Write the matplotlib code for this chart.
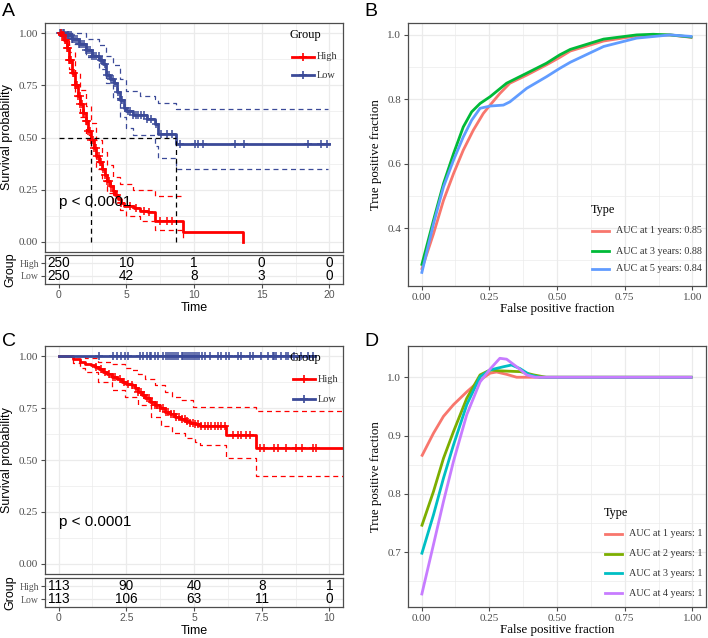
import numpy as np
import matplotlib
matplotlib.use("Agg")
import matplotlib.pyplot as plt
from matplotlib.lines import Line2D

W, H = 708, 638
SERIF = "Liberation Serif"
SANS = "Liberation Sans"
RED = "#FF0000"
BLUE = "#3B4A98"
GRID = "#EBEBEB"
BORDER = "#4D4D4D"
TICKC = "#4D4D4D"

# ---------------- Panel A data ----------------
a_high_t = [0, 0.2, 0.4, 0.6, 0.8, 1.0, 1.2, 1.4, 1.6, 1.8, 2.0, 2.2, 2.4, 2.6, 2.8, 3.0, 3.2, 3.4,
            3.6, 3.8, 4.0, 4.2, 4.4, 4.6, 4.8, 5.6, 6.0, 6.6, 7.1, 9.2, 13.6]
a_high_s = [1.0, 0.99, 0.97, 0.93, 0.87, 0.81, 0.75, 0.70, 0.66, 0.62, 0.58, 0.53, 0.49, 0.45, 0.41,
            0.38, 0.35, 0.32, 0.29, 0.265, 0.245, 0.225, 0.205, 0.185, 0.17, 0.16, 0.145, 0.14, 0.10,
            0.048, 0.0]
a_high_up_t = [0, 0.4, 0.8, 1.2, 1.6, 2.0, 2.4, 2.8, 3.2, 3.6, 4.0, 4.5, 5.5, 7.1, 9.2]
a_high_up_s = [1.0, 1.0, 0.91, 0.81, 0.73, 0.65, 0.57, 0.49, 0.43, 0.37, 0.31, 0.275, 0.25, 0.22, 0.22]
a_high_lo_t = [0, 0.4, 0.8, 1.2, 1.6, 2.0, 2.4, 2.8, 3.2, 3.6, 4.0, 4.5, 5.0, 6.0, 7.1, 9.2]
a_high_lo_s = [1.0, 0.95, 0.83, 0.70, 0.60, 0.51, 0.42, 0.35, 0.29, 0.235, 0.19, 0.15, 0.125, 0.10,
               0.055, 0.01]
a_high_cens = [0.15, 0.25, 0.35, 0.45, 0.55, 0.62, 0.7, 0.8, 0.88, 0.95, 1.05, 1.12, 1.2, 1.3, 1.38,
               1.45, 1.55, 1.62, 1.7, 1.8, 1.9, 2.0, 2.1, 2.2, 2.3, 2.42, 2.55, 2.65, 2.75, 2.85, 2.95,
               3.05, 3.15, 3.3, 3.45, 3.6, 3.75, 3.9, 4.1, 4.3, 4.6, 5.3, 5.7, 6.3, 6.7, 7.5, 7.97, 8.34]

a_low_t = [0, 0.5, 1.0, 1.5, 2.0, 2.5, 3.0, 3.3, 3.5, 3.8, 4.1, 4.3, 4.5, 4.8, 5.0, 5.5, 6.5, 7.1,
           7.35, 8.7, 20.0]
a_low_s = [1.0, 0.99, 0.975, 0.95, 0.92, 0.89, 0.87, 0.855, 0.80, 0.78, 0.76, 0.72, 0.68, 0.64, 0.625,
           0.607, 0.59, 0.565, 0.515, 0.47, 0.47]
a_low_up_t = [0, 1, 2, 3, 3.5, 4.0, 4.5, 5.0, 6.0, 7.1, 7.35, 8.7, 19.9]
a_low_up_s = [1.0, 1.0, 0.975, 0.945, 0.89, 0.85, 0.78, 0.725, 0.70, 0.685, 0.665, 0.635, 0.635]
a_low_lo_t = [0, 1, 2, 3, 3.5, 4.0, 4.5, 5.0, 5.5, 7.1, 7.35, 8.7, 19.9]
a_low_lo_s = [1.0, 0.95, 0.885, 0.83, 0.76, 0.69, 0.60, 0.545, 0.51, 0.46, 0.40, 0.35, 0.35]
a_low_cens = [0.1, 0.2, 0.3, 0.4, 0.5, 0.6, 0.7, 0.8, 0.9, 1.0, 1.1, 1.2, 1.35, 1.5, 1.6, 1.75, 1.9,
              2.05, 2.2, 2.35, 2.5, 2.65, 2.8, 2.95, 3.1, 3.2, 3.4, 3.6, 3.7, 3.9, 4.0, 4.2, 4.4, 4.6,
              4.7, 4.9, 5.1, 5.3, 5.5, 5.7, 5.9, 6.1, 6.3, 6.5, 6.8, 7.2, 7.6, 7.97, 8.34, 8.95,
              10.05, 10.3, 10.66, 13.0, 13.7, 18.45, 19.37, 19.85]
a_medians = [2.38, 8.7]
a_risk_times = [0, 5, 10, 15, 20]
a_risk_high = [250, 10, 1, 0, 0]
a_risk_low = [250, 42, 8, 3, 0]

# ---------------- Panel C data ----------------
c_high_t = [0, 0.55, 0.8, 0.98, 1.2, 1.35, 1.5, 1.65, 1.8, 1.96, 2.15, 2.33, 2.5, 2.7, 2.82, 2.94,
            3.07, 3.19, 3.37, 3.55, 3.73, 3.92, 4.1, 4.29, 4.47, 4.66, 4.84, 5.02, 5.21, 6.19, 7.29,
            10.6]
c_high_s = [1.0, 0.989, 0.973, 0.965, 0.957, 0.949, 0.937, 0.925, 0.913, 0.901, 0.889, 0.877, 0.869,
            0.861, 0.845, 0.829, 0.813, 0.798, 0.782, 0.766, 0.749, 0.733, 0.721, 0.709, 0.697,
            0.686, 0.678, 0.672, 0.662, 0.622, 0.558, 0.558]
c_high_up_t = [0, 0.55, 0.98, 1.47, 1.96, 2.45, 2.7, 2.94, 3.19, 3.55, 3.92, 4.17, 4.47, 4.96, 7.29, 10.6]
c_high_up_s = [1.0, 1.0, 0.99, 0.973, 0.962, 0.945, 0.933, 0.913, 0.893, 0.861, 0.829, 0.805, 0.789,
               0.757, 0.738, 0.738]
c_high_lo_t = [0, 0.55, 0.8, 0.98, 1.47, 1.96, 2.45, 2.94, 3.43, 3.8, 4.17, 4.66, 5.02, 5.21, 6.19,
               7.29, 10.6]
c_high_lo_s = [1.0, 0.968, 0.945, 0.925, 0.877, 0.837, 0.805, 0.766, 0.709, 0.662, 0.630, 0.606,
               0.587, 0.574, 0.51, 0.422, 0.422]
c_high_cens = [1.4, 1.55, 1.7, 1.85, 2.0, 2.1, 2.25, 2.4, 2.55, 2.7, 2.85, 2.95, 3.05, 3.15, 3.25,
               3.35, 3.45, 3.55, 3.65, 3.75, 3.85, 3.95, 4.05, 4.15, 4.25, 4.35, 4.45, 4.55, 4.65,
               4.75, 4.85, 4.95, 5.05, 5.15, 5.27, 5.39, 5.52, 5.64, 5.76, 5.88, 6.0, 6.13, 6.43,
               6.62, 6.74, 6.93, 7.05, 7.42, 7.6, 7.97, 8.09, 8.4, 8.76, 9.0, 9.38, 9.5]
c_low_t = [0, 9.45]
c_low_s = [1.0, 1.0]
c_low_cens = [1.5, 2.02, 2.15, 2.3, 2.45, 2.57, 3.0, 3.13, 3.25, 3.37, 3.43, 3.55, 3.68, 3.86, 3.95,
              4.05, 4.12, 4.2, 4.28, 4.35, 4.41, 4.54, 4.6, 4.68, 4.75, 4.82, 4.9, 4.97, 5.03, 5.1,
              5.2, 5.3, 5.39, 5.58, 5.88, 6.0, 6.19, 6.31, 6.62, 6.74, 7.05, 7.17, 7.48, 7.72, 7.9,
              7.97, 8.03, 8.21, 8.4, 8.46, 8.7, 8.95, 9.19, 9.38]
c_risk_times = [0, 2.5, 5, 7.5, 10]
c_risk_high = [113, 90, 40, 8, 1]
c_risk_low = [113, 106, 63, 11, 0]

# ---------------- Panel B data ----------------
b_labels = ["AUC at 1 years: 0.85", "AUC at 3 years: 0.88", "AUC at 5 years: 0.84"]
b_colors = ["#F8766D", "#00BA38", "#619CFF"]
b_fpr = [
    [0, 0.044, 0.081, 0.118, 0.154, 0.191, 0.228, 0.253, 0.289, 0.326, 0.388, 0.461, 0.51, 0.549,
     0.672, 0.794, 0.917, 1.0],
    [0, 0.044, 0.081, 0.118, 0.154, 0.185, 0.216, 0.253, 0.314, 0.388, 0.461, 0.51, 0.549, 0.672,
     0.794, 0.855, 0.917, 1.0],
    [0, 0.044, 0.081, 0.118, 0.154, 0.185, 0.216, 0.253, 0.302, 0.326, 0.388, 0.461, 0.51, 0.549,
     0.672, 0.794, 0.917, 1.0],
]
b_tpr = [
    [0.27, 0.382, 0.486, 0.569, 0.642, 0.704, 0.756, 0.782, 0.818, 0.85, 0.875, 0.907, 0.93, 0.95,
     0.981, 0.997, 1.0, 0.992],
    [0.283, 0.424, 0.538, 0.631, 0.714, 0.761, 0.787, 0.808, 0.85, 0.881, 0.912, 0.938, 0.955, 0.987,
     1.0, 1.002, 1.0, 0.993],
    [0.258, 0.413, 0.528, 0.611, 0.683, 0.735, 0.772, 0.779, 0.782, 0.792, 0.834, 0.87, 0.896, 0.915,
     0.964, 0.99, 1.0, 0.995],
]

# ---------------- Panel D data ----------------
d_labels = ["AUC at 1 years: 1", "AUC at 2 years: 1", "AUC at 3 years: 1", "AUC at 4 years: 1"]
d_colors = ["#F8766D", "#7CAE00", "#00BFC4", "#C77CFF"]
d_fpr = [
    [0, 0.044, 0.081, 0.118, 0.167, 0.216, 0.253, 0.277, 0.314, 0.351, 0.45, 1.0],
    [0, 0.044, 0.081, 0.118, 0.167, 0.216, 0.253, 0.289, 0.365, 0.414, 0.46, 1.0],
    [0, 0.044, 0.081, 0.118, 0.167, 0.216, 0.253, 0.302, 0.332, 0.363, 0.4, 0.436, 1.0],
    [0, 0.044, 0.081, 0.118, 0.167, 0.216, 0.253, 0.289, 0.314, 0.351, 0.388, 0.42, 1.0],
]
d_tpr = [
    [0.864, 0.904, 0.933, 0.953, 0.975, 0.995, 1.007, 1.009, 1.005, 1.0, 1.0, 1.0],
    [0.744, 0.804, 0.861, 0.907, 0.964, 1.004, 1.0125, 1.011, 1.0096, 1.004, 1.0, 1.0],
    [0.696, 0.764, 0.827, 0.884, 0.953, 1.001, 1.0125, 1.018, 1.021, 1.015, 1.004, 1.0, 1.0],
    [0.626, 0.713, 0.787, 0.856, 0.936, 0.992, 1.014, 1.0325, 1.031, 1.018, 1.004, 1.0, 1.0],
]

# ---------------- helpers ----------------
fig = plt.figure(figsize=(W / 100, H / 100), dpi=100)
fig.patch.set_facecolor("white")


def px_axes(l, t, r, b):
    return fig.add_axes([l / W, 1 - b / H, (r - l) / W, (b - t) / H])


def fxy(x, y):
    return x / W, 1 - y / H


def style_box(ax):
    for s in ax.spines.values():
        s.set_color(BORDER)
        s.set_linewidth(0.9)
    ax.set_facecolor("white")


def grid(ax, xmaj, xmin, ymaj, ymin):
    for v in xmin:
        ax.axvline(v, color=GRID, lw=0.5, zorder=0)
    for v in ymin:
        ax.axhline(v, color=GRID, lw=0.5, zorder=0)
    for v in xmaj:
        ax.axvline(v, color=GRID, lw=0.9, zorder=0)
    for v in ymaj:
        ax.axhline(v, color=GRID, lw=0.9, zorder=0)


def step_val(t, s, x):
    i = np.searchsorted(np.asarray(t), np.asarray(x), side="right") - 1
    return np.asarray(s)[i]


def km_group(ax, t, s, cens, color, up=None, lo=None):
    if up is not None:
        ax.step(up[0], up[1], where="post", color=color, lw=0.9, dashes=(4, 3), zorder=3)
        ax.step(lo[0], lo[1], where="post", color=color, lw=0.9, dashes=(4, 3), zorder=3)
    ax.step(t, s, where="post", color=color, lw=2.0, zorder=4)
    ax.plot(cens, step_val(t, s, cens), ls="none", marker="+", ms=5.5, mew=1.1, color=color, zorder=5)


def km_axes(ax, xlim, xmaj, xmin):
    style_box(ax)
    ax.set_xlim(*xlim)
    ax.set_ylim(-0.05, 1.05)
    grid(ax, xmaj, xmin, [0, 0.25, 0.5, 0.75, 1.0], [0.125, 0.375, 0.625, 0.875])
    ax.set_yticks([0, 0.25, 0.5, 0.75, 1.0])
    ax.set_yticklabels(["0.00", "0.25", "0.50", "0.75", "1.00"], family=SERIF, fontsize=8, color=TICKC)
    ax.set_xticks([])
    ax.tick_params(axis="y", length=3, width=0.8, color=TICKC, pad=2)
    ax.set_ylabel("Survival probability", family=SANS, fontsize=9, labelpad=4)


def risk_axes(ax, xlim, times, xlabels, high, low, yh, yl):
    style_box(ax)
    ax.set_xlim(*xlim)
    ax.set_ylim(0, 1)
    step = times[1] - times[0]
    grid(ax, times, [v + step / 2 for v in times[:-1]] + [times[-1] + step / 2], [yh, yl], [])
    ax.set_xticks(times)
    ax.set_xticklabels(xlabels, family=SANS, fontsize=7.5, color="#555555")
    ax.set_yticks([yh, yl])
    ax.set_yticklabels(["High", "Low"], family=SERIF, fontsize=7, color="#555555")
    ax.tick_params(length=3, width=0.8, color=TICKC, pad=1.5)
    for x, h, l in zip(times, high, low):
        ax.text(x, yh, str(h), ha="center", va="center", family=SANS, fontsize=9.8)
        ax.text(x, yl, str(l), ha="center", va="center", family=SANS, fontsize=9.8)
    ax.set_ylabel("Group", family=SANS, fontsize=9, labelpad=2)
    ax.set_xlabel("Time", family=SANS, fontsize=9, labelpad=1)


def group_legend(x0, ytitle, yh, yl):
    fig.text(*fxy(x0, ytitle), "Group", family=SERIF, fontsize=9, va="center", ha="left")
    for y, c, lab in [(yh, RED, "High"), (yl, BLUE, "Low")]:
        xa, ya = fxy(x0 + 3, y)
        xb, _ = fxy(x0 + 25, y)
        fig.add_artist(Line2D([xa, xb], [ya, ya], color=c, lw=2.0, transform=fig.transFigure))
        fig.add_artist(Line2D([(xa + xb) / 2], [ya], color=c, marker="+", ms=6, mew=1.2,
                              transform=fig.transFigure))
        fig.text(*fxy(x0 + 28, y), lab, family=SERIF, fontsize=7.4, color="#333333", va="center")


def type_legend(xk, ytitle, ys, labels, colors):
    fig.text(*fxy(xk - 1, ytitle), "Type", family=SERIF, fontsize=8.8, va="center")
    for y, c, lab in zip(ys, colors, labels):
        xa, ya = fxy(xk, y)
        xb, _ = fxy(xk + 17, y)
        fig.add_artist(Line2D([xa, xb], [ya, ya], color=c, lw=2.0, transform=fig.transFigure))
        fig.text(*fxy(xk + 24, y), lab, family=SERIF, fontsize=7.3, color="#333333", va="center")


def roc_axes(ax, ylim, yticks, ylabels, ymin):
    style_box(ax)
    ax.set_xlim(-0.05, 1.05)
    ax.set_ylim(*ylim)
    grid(ax, [0, 0.25, 0.5, 0.75, 1.0], [0.125, 0.375, 0.625, 0.875], yticks, ymin)
    ax.set_xticks([0, 0.25, 0.5, 0.75, 1.0])
    ax.set_xticklabels(["0.00", "0.25", "0.50", "0.75", "1.00"], family=SERIF, fontsize=8, color=TICKC)
    ax.set_yticks(yticks)
    ax.set_yticklabels(ylabels, family=SERIF, fontsize=8, color=TICKC)
    ax.tick_params(length=3, width=0.8, color=TICKC, pad=2)
    ax.set_xlabel("False positive fraction", family=SERIF, fontsize=9.3, labelpad=1)
    ax.set_ylabel("True positive fraction", family=SERIF, fontsize=9.3, labelpad=4)


# ---------------- Panel A ----------------
axA = px_axes(45, 23, 343, 252)
km_axes(axA, (-1, 21), [0, 5, 10, 15, 20], [2.5, 7.5, 12.5, 17.5])
km_group(axA, a_low_t, a_low_s, a_low_cens, BLUE, (a_low_up_t, a_low_up_s), (a_low_lo_t, a_low_lo_s))
km_group(axA, a_high_t, a_high_s, a_high_cens, RED, (a_high_up_t, a_high_up_s),
         (a_high_lo_t, a_high_lo_s))
axA.plot([0, max(a_medians)], [0.5, 0.5], color="black", lw=0.9, dashes=(4, 3), zorder=6)
for m in a_medians:
    axA.plot([m, m], [0, 0.5], color="black", lw=0.9, dashes=(4, 3), zorder=6)
axA.text(0, 0.19, "p < 0.0001", family=SANS, fontsize=11, va="center", ha="left", zorder=7)
group_legend(289, 35, 56.5, 75)

axAt = px_axes(45, 255, 343, 284)
risk_axes(axAt, (-1, 21), a_risk_times, ["0", "5", "10", "15", "20"], a_risk_high, a_risk_low,
          0.72, 0.28)

# ---------------- Panel C ----------------
axC = px_axes(45, 346, 343, 574)
km_axes(axC, (-0.5, 10.5), [0, 2.5, 5, 7.5, 10], [1.25, 3.75, 6.25, 8.75])
km_group(axC, c_high_t, c_high_s, c_high_cens, RED, (c_high_up_t, c_high_up_s),
         (c_high_lo_t, c_high_lo_s))
km_group(axC, c_low_t, c_low_s, c_low_cens, BLUE)
axC.text(0, 0.2, "p < 0.0001", family=SANS, fontsize=11, va="center", ha="left", zorder=7)
group_legend(290, 358, 379, 399)

axCt = px_axes(45, 578, 343, 607)
risk_axes(axCt, (-0.5, 10.5), c_risk_times, ["0", "2.5", "5", "7.5", "10"], c_risk_high, c_risk_low,
          0.72, 0.27)

# ---------------- Panel B ----------------
axB = px_axes(408, 23, 706, 286)
roc_axes(axB, (0.22, 1.037), [0.4, 0.6, 0.8, 1.0], ["0.4", "0.6", "0.8", "1.0"], [0.3, 0.5, 0.7, 0.9])
for f, t, c in zip(b_fpr, b_tpr, b_colors):
    axB.plot(f, t, color=c, lw=2.0, solid_capstyle="butt", zorder=3)
type_legend(592, 210, [231, 251, 269], b_labels, b_colors)

# ---------------- Panel D ----------------
axD = px_axes(408, 346, 706, 607)
roc_axes(axD, (0.606, 1.0536), [0.7, 0.8, 0.9, 1.0], ["0.7", "0.8", "0.9", "1.0"],
         [0.65, 0.75, 0.85, 0.95])
for f, t, c in zip(d_fpr, d_tpr, d_colors):
    axD.plot(f, t, color=c, lw=2.0, solid_capstyle="butt", zorder=3)
type_legend(605, 513, [534, 554, 573, 593], d_labels, d_colors)

# ---------------- panel letters ----------------
for x, y, s in [(2, 12, "A"), (364, 12, "B"), (2, 342, "C"), (364, 342, "D")]:
    fig.text(*fxy(x, y), s, family=SANS, fontsize=14, va="center", ha="left")

fig.savefig("out.png", dpi=100, facecolor="white")
